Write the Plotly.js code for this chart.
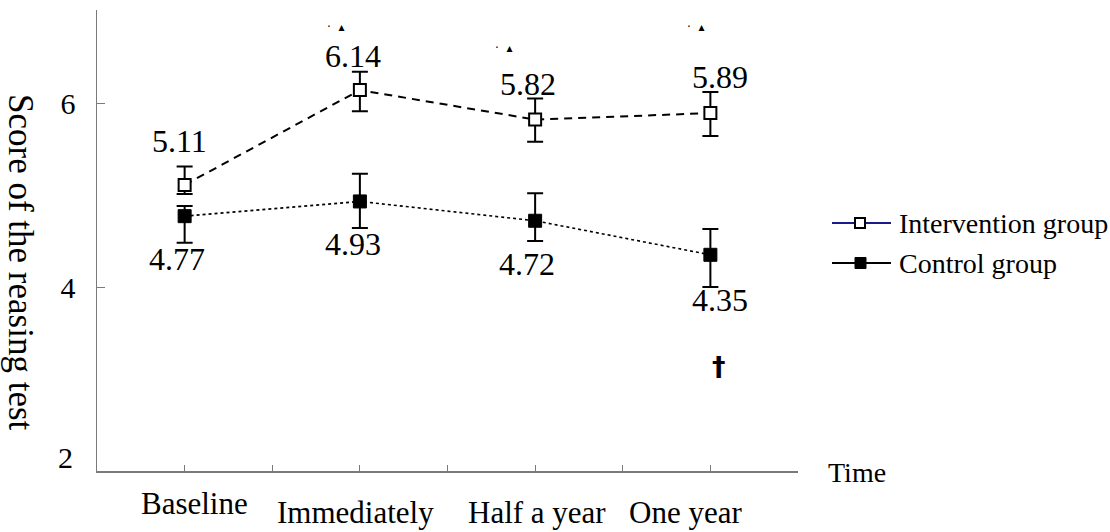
<!DOCTYPE html>
<html>
<head>
<meta charset="utf-8">
<script src="https://cdn.plot.ly/plotly-3.0.1.min.js"></script>
<style>html,body{margin:0;padding:0;background:#fff;}#chart{width:1110px;height:532px;}</style>
</head>
<body>
<div id="chart"></div>
<script>
// ---- data ----
const categories = ['Baseline', 'Immediately', 'Half a year', 'One year'];
const interventionMean = [5.11, 6.14, 5.82, 5.89];
const interventionErrUp = [0.20, 0.20, 0.23, 0.23];
const interventionErrDown = [0.10, 0.23, 0.24, 0.25];
const controlMean = [4.77, 4.93, 4.72, 4.35];
const controlErrUp = [0.11, 0.30, 0.30, 0.28];
const controlErrDown = [0.29, 0.29, 0.22, 0.35];
const yTickVals = [4, 6];
const yBottomLabel = '2';
const seriesNames = ['Intervention group', 'Control group'];
const xTitle = 'Time';
const yTitle = 'Score of the reasing test';
const sigMarks = ['·  ▴', '·  ▴', '·  ▴'];   // clipped marks above the points
const daggerText = '†';
const daggerIdx = 3;

// ---- styling / layout config (not data) ----
const W = 1110, H = 532;
const M = {l: 97, r: 312, t: 10, b: 61};
const pw = W - M.l - M.r, ph = H - M.t - M.b;
const pxX = px => (px - M.l) / pw;
const pxY = py => (H - M.b - py) / ph;
const serif = "'Liberation Serif', 'Times New Roman', Times, serif";
const axisColor = '#7a7a7a';
const intLabelShift = [{x: -5, y: 44}, {x: -7, y: 34}, {x: -7, y: 36}, {x: 10, y: 36}];
const ctlLabelShift = [{x: -8, y: -43}, {x: -7, y: -43}, {x: -8, y: -43}, {x: 10, y: -45}];
const catLabelShift = [{x: 10, y: -13}, {x: -4, y: -22}, {x: 2, y: -22}, {x: -25, y: -22}];
const sigMarkPos = [{x: 335, y: 27}, {x: 503, y: 48}, {x: 695, y: 27}];

const xs = categories.map((c, i) => i);

const traces = [
  {
    x: xs, y: interventionMean, type: 'scatter', mode: 'lines+markers', name: seriesNames[0],
    line: {color: '#000', width: 2, dash: '8px,6px'},
    marker: {symbol: 'square', size: 12, color: '#fff', line: {color: '#000', width: 2}},
    error_y: {type: 'data', symmetric: false, array: interventionErrUp, arrayminus: interventionErrDown,
              color: '#000', thickness: 2, width: 8},
    showlegend: false, hoverinfo: 'skip'
  },
  {
    x: xs, y: controlMean, type: 'scatter', mode: 'lines+markers', name: seriesNames[1],
    line: {color: '#000', width: 1.6, dash: 'dot'},
    marker: {symbol: 'square', size: 13, color: '#000', line: {color: '#000', width: 1}},
    error_y: {type: 'data', symmetric: false, array: controlErrUp, arrayminus: controlErrDown,
              color: '#000', thickness: 2, width: 8},
    showlegend: false, hoverinfo: 'skip'
  }
];

const annotations = [];
interventionMean.forEach((v, i) => annotations.push({
  x: i, y: v, xref: 'x', yref: 'y', text: v.toFixed(2), showarrow: false,
  xanchor: 'center', yanchor: 'middle', xshift: intLabelShift[i].x, yshift: intLabelShift[i].y,
  font: {family: serif, size: 32, color: '#000'}
}));
controlMean.forEach((v, i) => annotations.push({
  x: i, y: v, xref: 'x', yref: 'y', text: v.toFixed(2), showarrow: false,
  xanchor: 'center', yanchor: 'middle', xshift: ctlLabelShift[i].x, yshift: ctlLabelShift[i].y,
  font: {family: serif, size: 32, color: '#000'}
}));
categories.forEach((c, i) => annotations.push({
  x: i, y: 0, xref: 'x', yref: 'paper', text: c, showarrow: false,
  xanchor: 'center', yanchor: 'top', xshift: catLabelShift[i].x, yshift: catLabelShift[i].y,
  font: {family: serif, size: 31, color: '#000'}
}));
// x-axis title
annotations.push({x: pxX(826), y: pxY(472), xref: 'paper', yref: 'paper', text: xTitle, showarrow: false,
  xanchor: 'left', yanchor: 'middle', font: {family: serif, size: 28, color: '#000'}});
// y-axis title (reads top to bottom)
annotations.push({x: pxX(21), y: pxY(262), xref: 'paper', yref: 'paper', text: yTitle, showarrow: false,
  textangle: 90, xanchor: 'center', yanchor: 'middle', font: {family: serif, size: 35, color: '#000'}});
// bottom y label
annotations.push({x: 0, y: 2, xref: 'paper', yref: 'y', text: yBottomLabel, showarrow: false,
  xanchor: 'right', yanchor: 'middle', xshift: -22, yshift: 14, font: {family: serif, size: 30, color: '#000'}});
// significance marks
sigMarks.forEach((s, k) => annotations.push({
  x: pxX(sigMarkPos[k].x), y: pxY(sigMarkPos[k].y), xref: 'paper', yref: 'paper', text: s, showarrow: false,
  xanchor: 'center', yanchor: 'middle', font: {family: 'DejaVu Sans', size: 12, color: '#000'}
}));
// dagger
annotations.push({x: daggerIdx, y: controlMean[daggerIdx], xref: 'x', yref: 'y', text: '<b>' + daggerText + '</b>',
  showarrow: false, xanchor: 'center', yanchor: 'middle', xshift: 9, yshift: -112,
  font: {family: 'DejaVu Sans', size: 27, color: '#000'}});
// legend text
annotations.push({x: pxX(897), y: pxY(223), xref: 'paper', yref: 'paper', text: seriesNames[0], showarrow: false,
  xanchor: 'left', yanchor: 'middle', font: {family: serif, size: 28, color: '#000'}});
annotations.push({x: pxX(897), y: pxY(263), xref: 'paper', yref: 'paper', text: seriesNames[1], showarrow: false,
  xanchor: 'left', yanchor: 'middle', font: {family: serif, size: 28, color: '#000'}});

// legend symbols
const shapes = [
  {type: 'line', xref: 'paper', yref: 'paper', x0: pxX(832), x1: pxX(891), y0: pxY(223), y1: pxY(223),
   line: {color: '#1a1a8c', width: 2}},
  {type: 'rect', xref: 'paper', yref: 'paper', x0: pxX(855), x1: pxX(865), y0: pxY(218), y1: pxY(228),
   fillcolor: '#fff', line: {color: '#000', width: 2}},
  {type: 'line', xref: 'paper', yref: 'paper', x0: pxX(832), x1: pxX(891), y0: pxY(263), y1: pxY(263),
   line: {color: '#000', width: 2}},
  {type: 'rect', xref: 'paper', yref: 'paper', x0: pxX(855), x1: pxX(866), y0: pxY(257.5), y1: pxY(268.5),
   fillcolor: '#000', line: {color: '#000', width: 1}}
];

const layout = {
  width: W, height: H, margin: M,
  paper_bgcolor: '#fff', plot_bgcolor: '#fff',
  showlegend: false,
  font: {family: serif},
  xaxis: {
    range: [-0.5, 3.5], tickmode: 'linear', tick0: -0.5, dtick: 0.5,
    ticks: 'inside', ticklen: 6, tickwidth: 1, tickcolor: axisColor,
    showticklabels: false, showgrid: false, zeroline: false,
    showline: true, linecolor: axisColor, linewidth: 1.5
  },
  yaxis: {
    range: [2, 2 + ph / 92], tickmode: 'array', tickvals: yTickVals, ticktext: yTickVals.map(String),
    ticks: 'inside', ticklen: 8, tickwidth: 1, tickcolor: axisColor,
    ticklabelstandoff: 14,
    tickfont: {family: serif, size: 30, color: '#000'},
    showgrid: false, zeroline: false,
    showline: true, linecolor: axisColor, linewidth: 1.5
  },
  annotations: annotations,
  shapes: shapes
};

Plotly.newPlot('chart', traces, layout, {staticPlot: true, displayModeBar: false});
</script>
</body>
</html>
